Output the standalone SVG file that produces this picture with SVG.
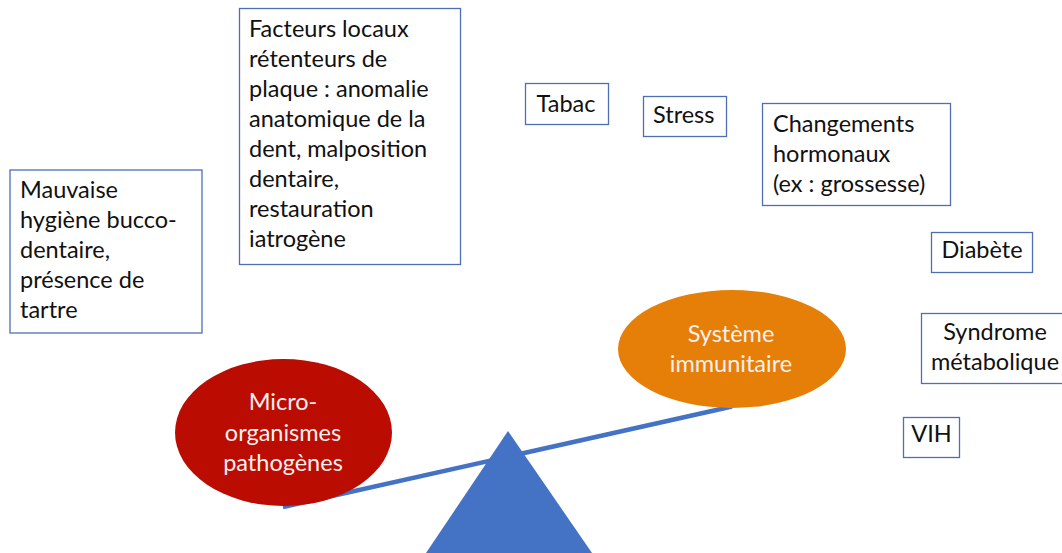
<svg xmlns="http://www.w3.org/2000/svg" width="1062" height="553" viewBox="0 0 1062 553">
<style>
.box{fill:#fff;stroke:#4F6FB5;stroke-width:1.3}
.t{font-family:Lato,"Liberation Sans",sans-serif;font-size:23.5px;fill:#111}
.w{font-family:Lato,"Liberation Sans",sans-serif;font-size:23.5px;fill:#FBEFEF;text-anchor:middle}
.c{text-anchor:middle}
</style>
<rect width="1062" height="553" fill="#fff"/>
<g id="connectors">
<line x1="283" y1="507" x2="732" y2="406.5" stroke="#4472C4" stroke-width="4.5"/>
</g>
<g id="triangle">
<polygon points="508,431 426,553 592,553" fill="#4472C4"/>
</g>
<g id="microorganismes">
<ellipse cx="283.5" cy="432.5" rx="108.5" ry="73.5" fill="#BA0C00"/>
<text class="w" x="283" y="410">Micro-</text>
<text class="w" x="283" y="440.5">organismes</text>
<text class="w" x="283" y="470.5">pathogènes</text>
</g>
<g id="systeme">
<ellipse cx="732" cy="349" rx="114" ry="59" fill="#E67F07"/>
<text class="w" x="731" y="342">Système</text>
<text class="w" x="731" y="372">immunitaire</text>
</g>
<g id="hygiene">
<rect class="box" x="10" y="170" width="192" height="163"/>
<text class="t" x="20" y="198">Mauvaise</text>
<text class="t" x="20" y="228">hygiène bucco-</text>
<text class="t" x="20" y="258">dentaire,</text>
<text class="t" x="20" y="288">présence de</text>
<text class="t" x="20" y="318">tartre</text>
</g>
<g id="facteurs">
<rect class="box" x="239.5" y="8.5" width="221" height="256"/>
<text class="t" x="249" y="36.7">Facteurs locaux</text>
<text class="t" x="249" y="66.7">rétenteurs de</text>
<text class="t" x="249" y="96.7">plaque : anomalie</text>
<text class="t" x="249" y="126.7">anatomique de la</text>
<text class="t" x="249" y="156.7">dent, malposition</text>
<text class="t" x="249" y="186.7">dentaire,</text>
<text class="t" x="249" y="216.7">restauration</text>
<text class="t" x="249" y="246.7">iatrogène</text>
</g>
<g id="tabac">
<rect class="box" x="525.5" y="83.5" width="83" height="41"/>
<text class="t" x="536.5" y="111.7">Tabac</text>
</g>
<g id="stress">
<rect class="box" x="643.5" y="96.5" width="83" height="40"/>
<text class="t" x="653" y="123.3">Stress</text>
</g>
<g id="hormonaux">
<rect class="box" x="762.5" y="103.5" width="188" height="102"/>
<text class="t" x="773" y="131.7">Changements</text>
<text class="t" x="773" y="161.7">hormonaux</text>
<text class="t" x="773" y="191.7">(ex : grossesse)</text>
</g>
<g id="diabete">
<rect class="box" x="931.5" y="232.5" width="101" height="40"/>
<text class="t c" x="982" y="258">Diabète</text>
</g>
<g id="syndrome">
<rect class="box" x="921.5" y="313.5" width="150" height="70"/>
<text class="t c" x="995" y="340">Syndrome</text>
<text class="t c" x="995" y="370">métabolique</text>
</g>
<g id="vih">
<rect class="box" x="903.5" y="417.5" width="56" height="40"/>
<text class="t c" x="931.5" y="442">VIH</text>
</g>
</svg>
